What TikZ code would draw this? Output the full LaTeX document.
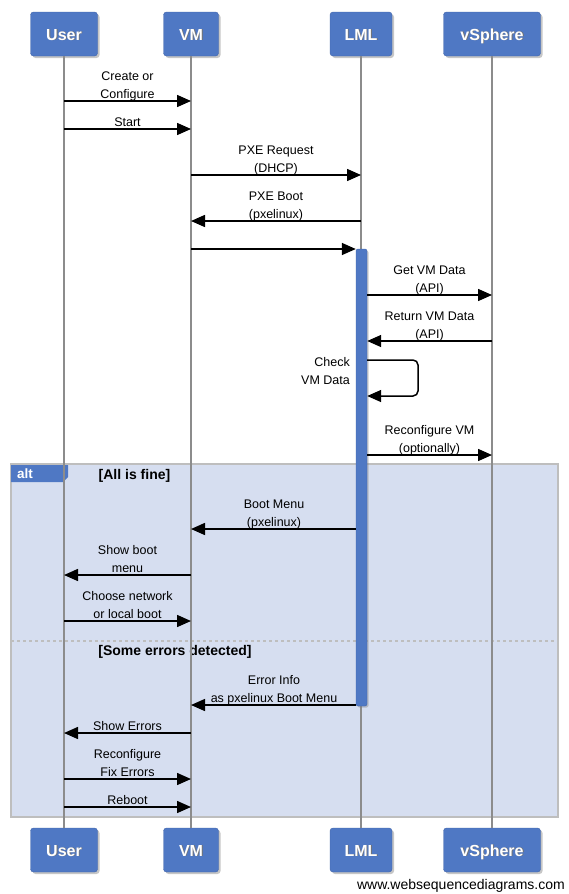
\documentclass[tikz,border=0pt]{standalone}
\usepackage{fontspec}
\setmainfont{Liberation Sans}
\usetikzlibrary{arrows.meta,shadows}
\definecolor{wsdblue}{RGB}{79,120,196}
\definecolor{wsdborder}{RGB}{66,102,170}
\definecolor{altfill}{RGB}{214,222,240}
\definecolor{altline}{RGB}{190,190,190}
\definecolor{lifegray}{RGB}{140,140,140}
\newcommand{\shtext}[1]{\makebox[0pt][l]{\kern0.9pt\raisebox{-0.9pt}{\textcolor{black!55}{#1}}}#1}
\begin{document}
\begin{tikzpicture}[x=1pt,y=-1pt,
  actor/.style={draw=wsdborder, fill=wsdblue, rounded corners=3pt, minimum height=44pt, inner sep=0pt,
    font=\fontsize{16}{18}\selectfont\bfseries, text=white, text height=12pt, text depth=0pt,
    drop shadow={shadow xshift=2pt, shadow yshift=-2pt, opacity=0.45}},
  lifeline/.style={draw=lifegray, line width=1.3pt},
  msg/.style={line width=1.5pt, -{Triangle[length=14pt,width=12pt]}},
  lbl/.style={font=\fontsize{12.5}{18}\selectfont, align=center, anchor=south, text depth=0pt, inner sep=0pt},
  guard/.style={font=\fontsize{14}{16}\selectfont\bfseries, inner sep=0pt},
  actbar/.style={draw=wsdborder, fill=wsdblue, rounded corners=2pt, minimum width=11pt, minimum height=457pt, inner sep=0pt,
    drop shadow={shadow xshift=1.5pt, shadow yshift=-1.5pt, opacity=0.4}}
]
\useasboundingbox (0,0) rectangle (568,894);

% alt frame
\draw[draw=altline, line width=1.5pt, fill=altfill] (11,464) rectangle (558,817);
\draw[draw=altline, line width=1.2pt, dashed] (11,641) -- (558,641);
\fill[wsdblue] (11,465) -- (68,465) -- (68,477) -- (63,482) -- (11,482) -- cycle;
\node[font=\fontsize{13.5}{15}\selectfont\bfseries, text=white, anchor=west, inner sep=0pt] (alttag) at (17,474) {alt};
\node[guard] (g1) at (134.5,475.5) {[All is fine]};
\node[guard] (g2) at (175,651.5) {[Some errors detected]};

% actors
\node[actor, minimum width=67pt] (u1) at (64,34) {\shtext{User}};
\node[actor, minimum width=55pt] (v1) at (191,34) {\shtext{VM}};
\node[actor, minimum width=62pt] (l1) at (361,34) {\shtext{LML}};
\node[actor, minimum width=97pt] (s1) at (492,34) {\shtext{vSphere}};
\node[actor, minimum width=67pt] (u2) at (64,850) {\shtext{User}};
\node[actor, minimum width=55pt] (v2) at (191,850) {\shtext{VM}};
\node[actor, minimum width=62pt] (l2) at (361,850) {\shtext{LML}};
\node[actor, minimum width=97pt] (s2) at (492,850) {\shtext{vSphere}};

% lifelines
\draw[lifeline] (u1.south) -- (u2.north);
\draw[lifeline] (v1.south) -- (v2.north);
\draw[lifeline] (l1.south) -- (l2.north);
\draw[lifeline] (s1.south) -- (s2.north);

% activation
\node[actbar] (act) at (361.5,477.5) {};

% messages
\draw[msg] (u1.south |- 0,101) -- (v1.south |- 0,101);
\node[lbl] (m1) at (127.5,98.5) {Create or\\Configure};
\draw[msg] (u1.south |- 0,129) -- (v1.south |- 0,129);
\node[lbl] (m2) at (127.5,126.5) {Start};
\draw[msg] (v1.south |- 0,175) -- (l1.south |- 0,175);
\node[lbl] (m3) at (276,172.5) {PXE Request\\(DHCP)};
\draw[msg] (l1.south |- 0,221) -- (v1.south |- 0,221);
\node[lbl] (m4) at (276,218.5) {PXE Boot\\(pxelinux)};
\draw[msg] (v1.south |- 0,249) -- (act.west |- 0,249);
\draw[msg] (act.east |- 0,295) -- (s1.south |- 0,295);
\node[lbl] (m6) at (429.5,292.5) {Get VM Data\\(API)};
\draw[msg] (s1.south |- 0,341) -- (act.east |- 0,341);
\node[lbl] (m7) at (429.5,338.5) {Return VM Data\\(API)};
\draw[msg, rounded corners=5pt] (act.east |- 0,360) -- (418,360) -- (418,396) -- (act.east |- 0,396);
\node[lbl, anchor=south east, align=right] (m8) at (350,384.5) {Check\\VM Data};
\draw[msg] (act.east |- 0,455) -- (s1.south |- 0,455);
\node[lbl] (m9) at (429.5,452.5) {Reconfigure VM\\(optionally)};
\draw[msg] (act.west |- 0,529) -- (v1.south |- 0,529);
\node[lbl] (m10) at (274,526.5) {Boot Menu\\(pxelinux)};
\draw[msg] (v1.south |- 0,575) -- (u1.south |- 0,575);
\node[lbl] (m11) at (127.5,572.5) {Show boot\\menu};
\draw[msg] (u1.south |- 0,621) -- (v1.south |- 0,621);
\node[lbl] (m12) at (127.5,618.5) {Choose network\\or local boot};
\draw[msg] (act.west |- 0,705) -- (v1.south |- 0,705);
\node[lbl] (m13) at (274,702.5) {Error Info\\as pxelinux Boot Menu};
\draw[msg] (v1.south |- 0,733) -- (u1.south |- 0,733);
\node[lbl] (m14) at (127.5,730.5) {Show Errors};
\draw[msg] (u1.south |- 0,779) -- (v1.south |- 0,779);
\node[lbl] (m15) at (127.5,776.5) {Reconfigure\\Fix Errors};
\draw[msg] (u1.south |- 0,807) -- (v1.south |- 0,807);
\node[lbl] (m16) at (127.5,804.5) {Reboot};

\node[font=\fontsize{14}{16}\selectfont, anchor=east, inner sep=0pt] (footer) at (565,886) {www.websequencediagrams.com};
\end{tikzpicture}
\end{document}
